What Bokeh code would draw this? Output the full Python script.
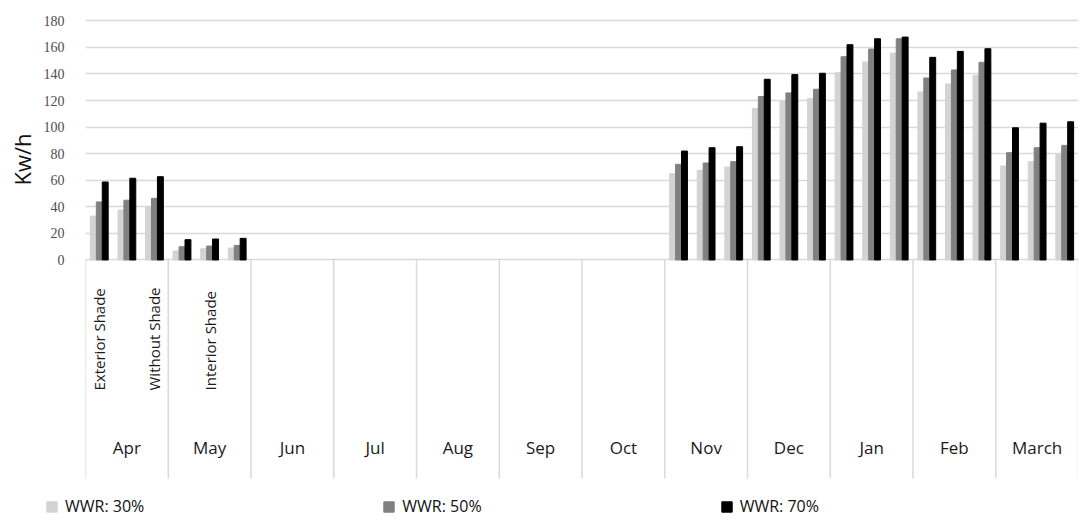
import math
from bokeh.plotting import figure
from bokeh.layouts import column
from bokeh.models import (ColumnDataSource, FactorRange, Range1d, FixedTicker,
                          Legend, LegendItem, Title)
from bokeh.transform import dodge
from bokeh.core.properties import value
from bokeh.embed import file_html
from bokeh.resources import INLINE

# ---------------- data ----------------
months = ["Apr", "May", "Jun", "Jul", "Aug", "Sep", "Oct",
          "Nov", "Dec", "Jan", "Feb", "March"]
shades = ["Exterior Shade", "Interior Shade", "Without Shade"]
data_months = ["Apr", "May", "Nov", "Dec", "Jan", "Feb", "March"]

wwr30 = [33, 37.6, 40,   6.8, 8.5, 9,   65, 67.5, 70,   114, 119.5, 121.5,
         141, 149, 155.75,   126.5, 132.5, 139,   70.75, 74, 79.5]
wwr50 = [43.7, 45, 46.4,   10, 10.5, 11,   72, 73, 74,   123, 125.75, 128.5,
         153, 158.75, 166.5,   137, 143, 148.75,   80.75, 84.5, 86.25]
wwr70 = [58.7, 61.5, 62.7,   15.3, 15.8, 16.3,   82, 84.5, 85.25,   136, 139.5, 140.5,
         162, 166.5, 167.75,   152.5, 157, 159,   99.5, 103, 104]

series_labels = ["WWR: 30%", "WWR: 50%", "WWR: 70%"]
y_ticks = [0, 20, 40, 60, 80, 100, 120, 140, 160, 180]
y_label = "Kw/h"

# sub-labels that are visible on the category axis
sub_label_months = ["Apr", "Apr", "May"]
sub_label_shades = ["Exterior Shade", "Without Shade", "Interior Shade"]

# ---------------- styles ----------------
colors = ["#d3d3d3", "#808080", "#000000"]
FONT = "Open Sans"
grid_color = "#d9d9d9"
W = 1078

all_factors = [(m, s) for m in months for s in shades]
bar_factors = [(m, s) for m in data_months for s in shades]

src = ColumnDataSource(dict(x=bar_factors, y30=wwr30, y50=wwr50, y70=wwr70))

p = figure(width=W, height=487,
           x_range=FactorRange(*all_factors, factor_padding=0, group_padding=0,
                               range_padding=0),
           y_range=Range1d(-171.2, 195.28),
           output_backend="svg", toolbar_location=None,
           x_axis_location=None,
           min_border_left=80, min_border_right=0,
           min_border_top=0, min_border_bottom=0)
p.frame_align = False
p.outline_line_color = None
p.background_fill_color = "white"
p.border_fill_color = "white"
p.xgrid.visible = False

# y axis
p.yaxis.ticker = FixedTicker(ticks=y_ticks)
p.yaxis.bounds = (0, 180)
p.yaxis.axis_line_color = None
p.yaxis.major_tick_line_color = None
p.yaxis.minor_tick_line_color = None
p.yaxis.major_tick_out = 0
p.yaxis.major_tick_in = 0
p.yaxis.major_label_standoff = 21
p.yaxis.major_label_text_font = "Liberation Serif"
p.yaxis.major_label_text_font_size = "14px"
p.yaxis.major_label_text_color = "#4d4d4d"

ttl = Title(text=y_label, align="right", offset=133, standoff=8,
            text_font=FONT, text_font_style="normal", text_font_size="22px",
            text_color="#111111")
p.add_layout(ttl, "left")

p.ygrid.ticker = FixedTicker(ticks=y_ticks)
p.ygrid.grid_line_color = grid_color
p.ygrid.grid_line_width = 1.6

# bars
bw = 0.215
renderers = []
for off, col, c in zip([-bw, 0, bw], ["y30", "y50", "y70"], colors):
    r = p.vbar(x=dodge("x", off, range=p.x_range), top=col, bottom=0, width=bw,
               source=src, fill_color=c, line_color=c)
    renderers.append(r)

# category table separators
sep_src = ColumnDataSource(dict(x=[(m, shades[0]) for m in months]))
p.segment(x0=dodge("x", -0.5, range=p.x_range), y0=0,
          x1=dodge("x", -0.5, range=p.x_range), y1=-164.4,
          source=sep_src, line_color=grid_color, line_width=1.5)
end_src = ColumnDataSource(dict(x=[(months[-1], shades[-1])]))
p.segment(x0=dodge("x", 0.5, range=p.x_range), y0=0,
          x1=dodge("x", 0.5, range=p.x_range), y1=-164.4,
          source=end_src, line_color=grid_color, line_width=1.5)

# month labels
mon_src = ColumnDataSource(dict(x=[(m, shades[1]) for m in months], t=months))
p.text(x="x", y=-141.1, text="t", source=mon_src, text_align="center",
       text_baseline="middle", text_font=value(FONT), text_font_size="17px",
       text_color="#1a1a1a")

# sub labels (rotated)
sub_src = ColumnDataSource(dict(x=list(zip(sub_label_months, sub_label_shades)),
                                t=sub_label_shades))
p.text(x="x", y=-98.2, text="t", source=sub_src, angle=math.pi / 2,
       text_align="left", text_baseline="middle", text_font=value(FONT),
       text_font_size="15px", text_color="#1a1a1a")

# legend strip (separate small figure so it can start left of the plot frame)
lg = figure(width=W, height=30, x_range=Range1d(0, W), y_range=Range1d(0, 30),
            output_backend="svg", toolbar_location=None,
            x_axis_location=None, y_axis_location=None,
            min_border_left=0, min_border_right=0,
            min_border_top=0, min_border_bottom=0)
lg.frame_align = False
lg.outline_line_color = None
lg.grid.visible = False
# off-screen proxy glyphs that only feed the legend keys
lg_src = ColumnDataSource(dict(x=[-50], top=[0]))
lg_renderers = [lg.vbar(x="x", top="top", width=1, source=lg_src,
                        fill_color=c, line_color=c) for c in colors]
legend = Legend(items=[LegendItem(label=l, renderers=[r])
                       for l, r in zip(series_labels, lg_renderers)],
                orientation="horizontal", location=(45, 0), spacing=238,
                glyph_width=13, glyph_height=13, label_standoff=7,
                label_height=13, padding=0, margin=0,
                border_line_color=None, background_fill_alpha=0,
                label_text_font=FONT, label_text_font_size="16px",
                label_text_color="#111111")
lg.add_layout(legend)

layout = column(p, lg, spacing=0)
open("out.html", "w").write(file_html(layout, INLINE))
